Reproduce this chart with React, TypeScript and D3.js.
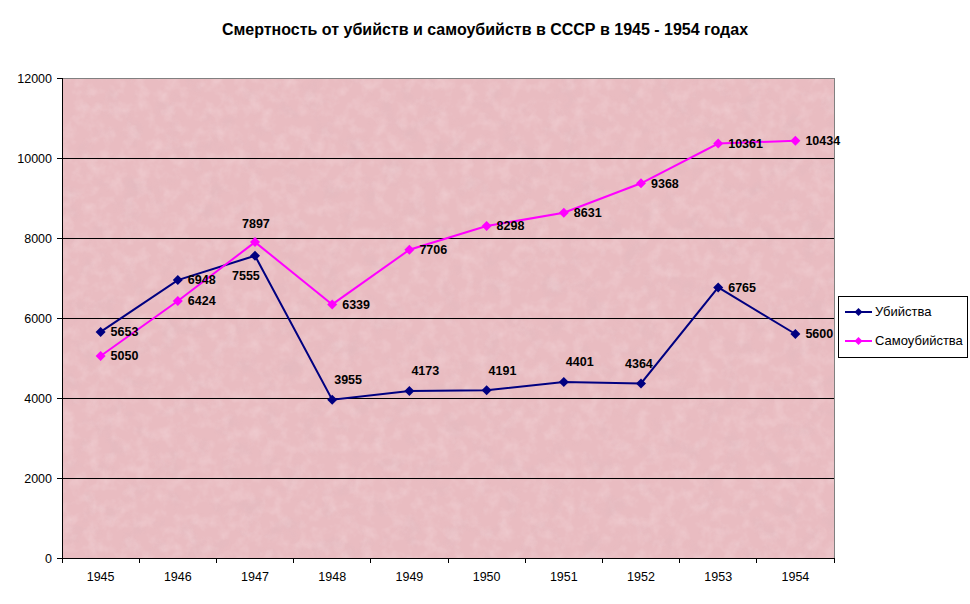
import React, {useEffect, useRef} from "react";
import * as d3 from "d3";

const years = ["1945", "1946", "1947", "1948", "1949", "1950", "1951", "1952", "1953", "1954"];
const murders = [5653, 6948, 7555, 3955, 4173, 4191, 4401, 4364, 6765, 5600];
const suicides = [5050, 6424, 7897, 6339, 7706, 8298, 8631, 9368, 10361, 10434];
const yTicks = [0, 2000, 4000, 6000, 8000, 10000, 12000];
const seriesNames = ["Убийства", "Самоубийства"];
const title = "Смертность от убийств и самоубийств в СССР в 1945 - 1954 годах";

// where each data label sits: r = right, a = above, bl = below left, al = above left, ac = above centre
const murderLabelPos = ["r", "r", "bl", "a", "a", "a", "a", "al", "r", "r"];
const suicideLabelPos = ["r", "r", "ac", "r", "r", "r", "r", "r", "r", "r"];

function createChart(el: SVGSVGElement) {
  const svg = d3.select(el);
  svg.selectAll("*").remove();
  const W = 970, H = 604;
  const margin = {top: 78, right: 136, bottom: 46, left: 62};
  const width = W - margin.left - margin.right;
  const height = H - margin.top - margin.bottom;
  const font = "Arial, 'Liberation Sans', sans-serif";

  // mottled paper texture for the plot area
  const defs = svg.append("defs");
  const dark = defs.append("filter").attr("id", "paperDark").attr("x", 0).attr("y", 0).attr("width", "100%").attr("height", "100%");
  dark.append("feTurbulence").attr("type", "fractalNoise").attr("baseFrequency", 0.05).attr("numOctaves", 4).attr("seed", 3).attr("result", "noise");
  dark.append("feColorMatrix").attr("in", "noise").attr("type", "matrix")
    .attr("values", "0 0 0 0 0.62  0 0 0 0 0.45  0 0 0 0 0.5  0 0 0 -1.2 0.58");
  dark.append("feComposite").attr("in2", "SourceGraphic").attr("operator", "in");
  const light = defs.append("filter").attr("id", "paperLight").attr("x", 0).attr("y", 0).attr("width", "100%").attr("height", "100%");
  light.append("feTurbulence").attr("type", "fractalNoise").attr("baseFrequency", 0.08).attr("numOctaves", 3).attr("seed", 11).attr("result", "noise");
  light.append("feColorMatrix").attr("in", "noise").attr("type", "matrix")
    .attr("values", "0 0 0 0 1  0 0 0 0 0.92  0 0 0 0 0.93  0 0 0 1.3 -0.55");
  light.append("feComposite").attr("in2", "SourceGraphic").attr("operator", "in");

  svg.append("rect").attr("width", W).attr("height", H).attr("fill", "#ffffff");

  svg.append("text")
    .attr("x", 485).attr("y", 31)
    .attr("text-anchor", "middle").attr("dominant-baseline", "middle")
    .attr("font-family", font)
    .attr("font-size", 16).attr("font-weight", "bold")
    .text(title);

  const g = svg.append("g").attr("transform", `translate(${margin.left},${margin.top})`);

  const x = d3.scaleBand().domain(years).range([0, width]).padding(0);
  const y = d3.scaleLinear().domain([0, 12000]).range([height, 0]);

  g.append("rect").attr("width", width).attr("height", height).attr("fill", "#e9bcc1");
  g.append("rect").attr("width", width).attr("height", height).attr("fill", "#e9bcc1").attr("filter", "url(#paperDark)").attr("opacity", 0.35);
  g.append("rect").attr("width", width).attr("height", height).attr("fill", "#e9bcc1").attr("filter", "url(#paperLight)").attr("opacity", 0.35);

  // gridlines
  g.selectAll(".grid").data(yTicks.filter((t) => t > 0 && t < 12000)).enter()
    .append("line")
    .attr("x1", 0).attr("x2", width)
    .attr("y1", (d) => y(d)).attr("y2", (d) => y(d))
    .attr("stroke", "#000").attr("stroke-width", 1).attr("shape-rendering", "crispEdges");

  // plot border (top/right grey)
  g.append("path").attr("d", `M0,0H${width}V${height}`).attr("fill", "none")
    .attr("stroke", "#808080").attr("stroke-width", 1).attr("shape-rendering", "crispEdges");

  const yAxis = g.append("g").call(d3.axisLeft(y).tickValues(yTicks).tickSize(5).tickPadding(5).tickFormat(d3.format("d")));
  const xAxis = g.append("g").attr("transform", `translate(0,${height})`)
    .call(d3.axisBottom(x).tickSize(0).tickPadding(14));
  [yAxis, xAxis].forEach((a) => {
    a.selectAll("text").attr("font-family", font).attr("font-size", 12.5).attr("fill", "#000");
    a.selectAll("line").attr("stroke", "#000");
    a.select(".domain").attr("stroke", "#000").attr("shape-rendering", "crispEdges");
  });
  yAxis.select(".domain").attr("d", `M0,0V${height}`);
  xAxis.select(".domain").attr("d", `M0,0H${width}`);
  // category boundary ticks
  xAxis.selectAll(".bound").data(d3.range(years.length + 1)).enter()
    .append("line")
    .attr("x1", (i) => i * x.bandwidth()).attr("x2", (i) => i * x.bandwidth())
    .attr("y1", 0).attr("y2", 5)
    .attr("stroke", "#000").attr("shape-rendering", "crispEdges");

  const cx = (d: string) => (x(d) as number) + x.bandwidth() / 2;
  const diamond = (s: number) => `M0,${-s}L${s},0L0,${s}L${-s},0Z`;

  const series = [
    {values: murders, color: "#000080", pos: murderLabelPos},
    {values: suicides, color: "#ff00ff", pos: suicideLabelPos},
  ];

  series.forEach((s) => {
    const line = d3.line<number>().x((_, i) => cx(years[i])).y((d) => y(d));
    g.append("path").datum(s.values).attr("d", line).attr("fill", "none")
      .attr("stroke", s.color).attr("stroke-width", 2);
    g.selectAll(null).data(s.values).enter().append("path")
      .attr("transform", (d, i) => `translate(${cx(years[i])},${y(d)})`)
      .attr("d", diamond(5)).attr("fill", s.color);
  });

  series.forEach((s) => {
    g.selectAll(null).data(s.values).enter().append("text")
      .attr("x", (d, i) => {
        const p = s.pos[i];
        const px = cx(years[i]);
        if (p === "r") return px + 10;
        if (p === "a") return px + 2;
        if (p === "al") return px - 16;
        if (p === "bl") return px - 23;
        return px - 13;
      })
      .attr("y", (d, i) => {
        const p = s.pos[i];
        const py = y(d);
        if (p === "r") return py + 1;
        if (p === "bl") return py + 21;
        if (p === "ac") return py - 17;
        return py - 19;
      })
      .attr("dominant-baseline", "middle")
      .attr("font-family", font).attr("font-size", 12.5).attr("font-weight", "bold")
      .attr("fill", "#000")
      .text((d) => String(d));
  });

  // legend
  const legend = svg.append("g").attr("transform", "translate(838,296)");
  legend.append("rect").attr("x", 0.5).attr("y", 0.5).attr("width", 129).attr("height", 61)
    .attr("fill", "#fff").attr("stroke", "#000");
  series.forEach((s, i) => {
    const ly = 16 + i * 29;
    legend.append("line").attr("x1", 7).attr("x2", 34).attr("y1", ly).attr("y2", ly)
      .attr("stroke", s.color).attr("stroke-width", 2);
    legend.append("path").attr("transform", `translate(20.5,${ly})`).attr("d", diamond(4)).attr("fill", s.color);
    legend.append("text").attr("x", 37).attr("y", ly + 1).attr("dominant-baseline", "middle")
      .attr("font-family", font).attr("font-size", 13).attr("fill", "#000")
      .text(seriesNames[i]);
  });
}

export default function App() {
  const ref = useRef<SVGSVGElement>(null);
  useEffect(() => {
    if (ref.current) createChart(ref.current);
  }, []);
  return (
    <svg ref={ref} width={970} height={604} style={{position: "absolute", left: 0, top: 0, display: "block"}} />
  );
}
